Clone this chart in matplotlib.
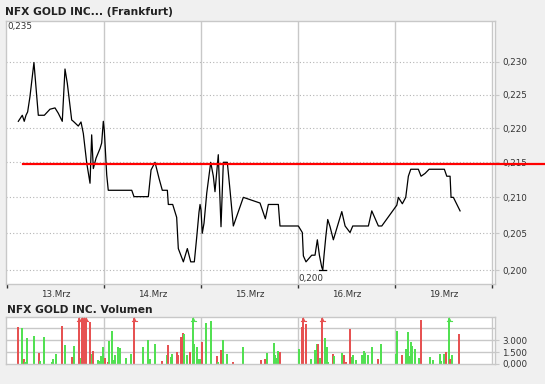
import numpy as np
import matplotlib
matplotlib.use('Agg')
from matplotlib import pyplot as plt
from matplotlib.ticker import FixedLocator, NullLocator, NullFormatter

# price trace, x in trading-day units (0 = start of 13.Mrz)
price_t = [0.117, 0.158, 0.178, 0.196, 0.213, 0.237, 0.278, 0.323, 0.385, 0.443,
           0.495, 0.529, 0.570, 0.598, 0.622, 0.667, 0.684, 0.735, 0.763, 0.787,
           0.822, 0.856, 0.873, 0.890, 0.918, 0.959, 0.976, 0.993, 1.003, 1.028,
           1.044, 1.286, 1.309, 1.457, 1.485, 1.526, 1.567, 1.601, 1.653, 1.663,
           1.708, 1.749, 1.766, 1.818, 1.859, 1.894, 1.931, 1.956, 1.979, 1.990,
           2.000, 2.013, 2.031, 2.059, 2.100, 2.127, 2.144, 2.178, 2.206, 2.230,
           2.271, 2.299, 2.333, 2.436, 2.608, 2.663, 2.694, 2.797, 2.814, 3.003,
           3.044, 3.055, 3.082, 3.141, 3.175, 3.199, 3.220, 3.244, 3.255, 3.268,
           3.286, 3.306, 3.330, 3.364, 3.451, 3.485, 3.536, 3.564, 3.725, 3.760,
           3.828, 3.863, 4.018, 4.034, 4.075, 4.110, 4.137, 4.162, 4.240, 4.268,
           4.309, 4.351, 4.508, 4.533, 4.567, 4.577, 4.601, 4.670]
price_v = [0.2210, 0.2219, 0.2210, 0.2219, 0.2224, 0.2247, 0.2299, 0.2219, 0.2219, 0.2228,
           0.2230, 0.2222, 0.2210, 0.2289, 0.2267, 0.2212, 0.2210, 0.2203, 0.2209, 0.2192,
           0.2149, 0.2120, 0.2190, 0.2141, 0.2156, 0.2170, 0.2178, 0.2210, 0.2197, 0.2132,
           0.2110, 0.2110, 0.2101, 0.2101, 0.2139, 0.2150, 0.2127, 0.2110, 0.2110, 0.2090,
           0.2090, 0.2072, 0.2029, 0.2011, 0.2029, 0.2011, 0.2011, 0.2045, 0.2079, 0.2090,
           0.2082, 0.2050, 0.2064, 0.2106, 0.2150, 0.2130, 0.2108, 0.2161, 0.2059, 0.2150,
           0.2150, 0.2110, 0.2060, 0.2100, 0.2092, 0.2070, 0.2090, 0.2090, 0.2060, 0.2060,
           0.2051, 0.2019, 0.2011, 0.2020, 0.2020, 0.2041, 0.2020, 0.2004, 0.2000, 0.2020,
           0.2045, 0.2069, 0.2059, 0.2041, 0.2080, 0.2060, 0.2051, 0.2060, 0.2060, 0.2081,
           0.2060, 0.2060, 0.2089, 0.2100, 0.2091, 0.2100, 0.2130, 0.2140, 0.2140, 0.2130,
           0.2134, 0.2140, 0.2140, 0.2130, 0.2130, 0.2100, 0.2100, 0.2081]
ref_level = 0.2147

day_labels = ['13.Mrz', '14.Mrz', '15.Mrz', '16.Mrz', '19.Mrz']
price_ticks = [0.200, 0.205, 0.210, 0.215, 0.220, 0.225, 0.230]
price_ticklabels = ['0,200', '0,205', '0,210', '0,215', '0,220', '0,225', '0,230']

# volume bars (7000 = above panel top, drawn clipped with arrow)
vol_t = [0.116, 0.158, 0.178, 0.189, 0.209, 0.281, 0.327, 0.343, 0.385, 0.467,
         0.477, 0.508, 0.570, 0.601, 0.673, 0.694, 0.745, 0.762, 0.772, 0.791,
         0.814, 0.859, 0.873, 0.890, 0.941, 0.962, 0.972, 0.993, 1.013, 1.044,
         1.055, 1.086, 1.106, 1.116, 1.147, 1.168, 1.230, 1.281, 1.312, 1.405,
         1.457, 1.477, 1.529, 1.601, 1.653, 1.663, 1.688, 1.698, 1.704, 1.756,
         1.766, 1.797, 1.818, 1.828, 1.859, 1.890, 1.921, 1.931, 1.962, 1.982,
         1.993, 2.013, 2.055, 2.106, 2.168, 2.178, 2.209, 2.230, 2.271, 2.333,
         2.436, 2.622, 2.663, 2.684, 2.756, 2.766, 2.787, 2.797, 2.818, 3.013,
         3.041, 3.055, 3.086, 3.137, 3.178, 3.199, 3.209, 3.230, 3.250, 3.281,
         3.302, 3.313, 3.364, 3.374, 3.457, 3.478, 3.498, 3.539, 3.560, 3.570,
         3.601, 3.663, 3.684, 3.694, 3.725, 3.766, 3.828, 3.859, 4.013, 4.024,
         4.075, 4.116, 4.137, 4.158, 4.168, 4.179, 4.209, 4.251, 4.271, 4.364,
         4.395, 4.467, 4.477, 4.508, 4.529, 4.560, 4.570, 4.591, 4.663]
vol_v = [4625, 4500, 580, 250, 3250, 3500, 1375, 340, 3375, 250,
         580, 1250, 4750, 2420, 875, 2250, 7000, 790, 7000, 7000,
         7000, 5250, 1290, 1580, 540, 340, 1000, 2125, 750, 250,
         2875, 4125, 460, 1170, 2125, 2000, 750, 1210, 7000, 2125,
         3000, 580, 2460, 375, 1080, 2330, 875, 1170, 1210, 1460,
         1080, 3375, 3875, 3710, 1080, 1460, 7000, 2460, 2125, 580,
         580, 2750, 5125, 5375, 1000, 250, 1750, 3000, 1250, 250,
         2125, 500, 625, 1375, 2625, 1125, 750, 1580, 1500, 1875,
         4625, 7000, 5000, 625, 1750, 2500, 2500, 750, 7000, 3250,
         2125, 250, 1250, 1000, 1375, 1125, 250, 4375, 875, 1125,
         500, 1125, 1625, 1375, 1125, 2125, 625, 2500, 1250, 4125,
         1125, 1875, 4000, 1000, 2750, 2250, 1875, 750, 5500, 875,
         500, 1250, 375, 1250, 1500, 7000, 625, 1125, 3750]
vol_dir = ['r', 'g', 'r', 'g', 'g', 'g', 'r', 'g', 'g', 'g',
           'g', 'g', 'r', 'g', 'r', 'g', 'r', 'g', 'r', 'r',
           'r', 'r', 'g', 'r', 'g', 'g', 'g', 'g', 'r', 'r',
           'g', 'g', 'g', 'g', 'g', 'g', 'g', 'g', 'r', 'g',
           'g', 'g', 'g', 'r', 'g', 'r', 'g', 'g', 'g', 'r',
           'r', 'r', 'r', 'g', 'g', 'r', 'g', 'g', 'g', 'g',
           'g', 'r', 'g', 'g', 'r', 'g', 'r', 'g', 'g', 'r',
           'g', 'r', 'r', 'g', 'g', 'g', 'g', 'g', 'r', 'g',
           'r', 'r', 'r', 'g', 'g', 'g', 'r', 'g', 'r', 'g',
           'g', 'g', 'r', 'g', 'g', 'r', 'r', 'r', 'g', 'g',
           'g', 'g', 'g', 'g', 'g', 'g', 'r', 'g', 'g', 'g',
           'r', 'g', 'g', 'g', 'g', 'g', 'g', 'g', 'r', 'g',
           'g', 'g', 'g', 'g', 'r', 'g', 'r', 'g', 'r']
vol_ticks = [0, 1500, 3000]
vol_ticklabels = ['0,000', '1.500', '3.000']

RED = '#e65252'
GREEN = '#52e052'
GRID = '#c8c8c8'
TXT = '#333333'
BG = '#f0f0f0'

W, H = 545, 384
fig = plt.figure(figsize=(W / 100, H / 100), dpi=100)
fig.patch.set_facecolor(BG)


def px_axes(l, t, r, b):
    return fig.add_axes([l / W, 1 - b / H, (r - l) / W, (b - t) / H])


xlim = (-0.01, 5.03)
day_edges = np.arange(0, 6)
day_mid = np.arange(5) + 0.5

# --- price panel ---
ax = px_axes(6, 21, 495, 284)
ax.set_facecolor('white')
ax.set_yscale('log')
ax.set_xlim(*xlim)
ax.set_ylim(0.19813, 0.2364)
for s in ax.spines.values():
    s.set_color(GRID)
    s.set_linewidth(1)
for x in day_edges[1:]:
    ax.axvline(x, color=GRID, lw=1, zorder=1)
for yv in price_ticks:
    ax.axhline(yv, color='#b4b4b4', lw=0.8, ls=(0, (1, 2)), zorder=1)

ax.plot(price_t, price_v, color='black', lw=0.9, zorder=3)
# low marker
i_min = int(np.argmin(price_v))
ax.plot([price_t[i_min] - 0.035, price_t[i_min] + 0.035], [price_v[i_min]] * 2,
        color='black', lw=0.9, zorder=3)
ax.text(price_t[i_min] - 0.255, price_v[i_min] * 0.9975, '0,200', fontsize=6.3,
        color=TXT, va='top', ha='left')
ax.text(0.0, 0.2355, '0,235', fontsize=6.3, color=TXT, va='center', ha='left')

ax.axhline(ref_level, xmin=17 / 489, xmax=539 / 489, color='#ff0000', lw=1.6,
           clip_on=False, zorder=4)

ax.yaxis.tick_right()
ax.yaxis.set_major_locator(FixedLocator(price_ticks))
ax.yaxis.set_minor_locator(NullLocator())
ax.yaxis.set_minor_formatter(NullFormatter())
ax.set_yticklabels(price_ticklabels)
ax.tick_params(axis='y', length=3, width=0.8, color=GRID, pad=2,
               labelsize=6.3, labelcolor=TXT)
ax.set_xticks(day_edges)
ax.set_xticks(day_mid, minor=True)
ax.set_xticklabels([])
ax.set_xticklabels(day_labels, minor=True)
ax.tick_params(axis='x', which='major', length=3, width=1, color='#333333')
ax.tick_params(axis='x', which='minor', length=0, pad=4, labelsize=6.3,
               labelcolor=TXT)

fig.text(5 / W, 1 - 12 / H, 'NFX GOLD INC... (Frankfurt)', fontsize=7.7,
         fontweight='bold', color='#222222', va='center', ha='left')

# --- volume panel ---
av = px_axes(6, 317, 495, 364)
av.set_facecolor('white')
av.set_xlim(*xlim)
av.set_ylim(0, 5875)
for s in av.spines.values():
    s.set_color(GRID)
    s.set_linewidth(1)
for x in day_edges[1:]:
    av.axvline(x, color=GRID, lw=1, zorder=1)
for yv in [1500, 3000, 4500]:
    av.axhline(yv, color=GRID, lw=1, zorder=1)

cols = [GREEN if d == 'g' else RED for d in vol_dir]
av.bar(vol_t, vol_v, width=0.0206, color=cols, linewidth=0, zorder=2,
       antialiased=False)
top = av.get_ylim()[1]
for t, v, c in zip(vol_t, vol_v, cols):
    if v > top:
        av.plot(t, top - 300, marker='^', ms=3.2, color=c, mew=0, zorder=3)
        av.plot([t - 0.025, t + 0.025], [top - 450] * 2, color=c, lw=0.8, zorder=3)

av.yaxis.tick_right()
av.set_yticks(vol_ticks)
av.set_yticklabels(vol_ticklabels)
av.tick_params(axis='y', length=3, width=0.8, color=GRID, pad=2,
               labelsize=6.3, labelcolor=TXT)
av.set_xticks([])

fig.text(7 / W, 1 - 310 / H, 'NFX GOLD INC. Volumen', fontsize=7.7,
         fontweight='bold', color='#222222', va='center', ha='left')

fig.savefig('out.png', dpi=100, facecolor=BG)
